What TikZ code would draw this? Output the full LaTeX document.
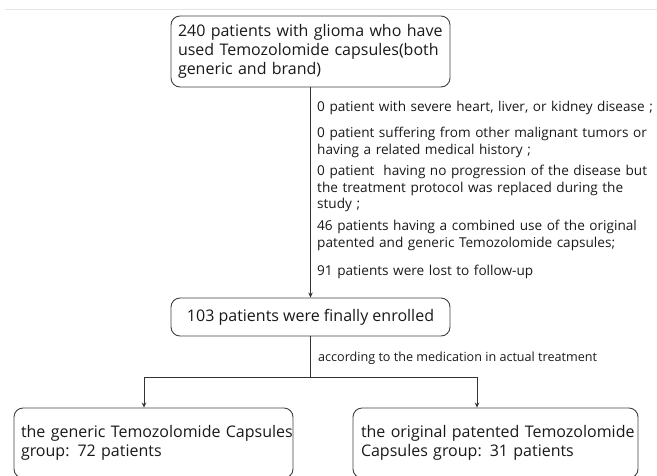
\documentclass[tikz,border=0pt]{standalone}
\usepackage{fontspec}
\setmainfont{Open Sans}
\usetikzlibrary{arrows.meta,positioning}

\begin{document}
\begin{tikzpicture}[x=1pt,y=-1pt,
    box/.style={draw=black!75, line width=0.9pt, rounded corners=9pt, inner xsep=7pt, inner ysep=0pt, align=left, text=black!90, font=\fontsize{16}{19}\selectfont},
    note/.style={anchor=north west, inner sep=0pt, align=left, text width=345pt, text=black!90, font=\fontsize{13.6}{16.5}\selectfont},
    flow/.style={draw=black!80, line width=0.8pt, -{Stealth[length=5pt,width=4.5pt]}},
    link/.style={draw=black!80, line width=0.8pt}
]

% Frame
\useasboundingbox (0,0) rectangle (657,475);
\draw[gray!20, line width=0.8pt] (5,9) -- (657,9);

% Boxes (lines kept whole, the font is wider than the box allows)
\node[box, minimum width=279pt, minimum height=71pt, text width=265pt] (all) at (310.5,51.5)
    {\mbox{240 patients with glioma who have}\\\mbox{used Temozolomide capsules(both}\\generic and brand)};
\node[box, minimum width=279pt, minimum height=38pt, align=center] (enrolled) at (310.5,317)
    {103 patients were finally enrolled};
\node[box, minimum width=279pt, minimum height=70pt, text width=265pt, inner xsep=6pt] (generic) at (153.5,443)
    {\mbox{the generic Temozolomide Capsules}\\group: 72 patients};
\node[box, minimum width=285pt, minimum height=70pt, text width=269pt, inner xsep=8pt] (original) at (495.5,443)
    {\mbox{the original patented Temozolomide}\\\mbox{Capsules group: 31 patients}};

% Exclusions
\node[note] (heart) at (317,101) {\mbox{0 patient with severe heart, liver, or kidney disease ;}};
\node[note] (tumor) at (317,127) {0 patient suffering from other malignant tumors or\\having a related medical history ;};
\node[note] (swap) at (317,165) {0 patient\ \ having no progression of the disease but\\the treatment protocol was replaced during the\\study ;};
\node[note] (mixed) at (317,220) {46 patients having a combined use of the original\\patented and generic Temozolomide capsules;};
\node[note] (lost) at (317,265) {91 patients were lost to follow-up};

% Connectors
\draw[flow] (all.south) -- (enrolled.north);
\coordinate (split) at (310.5,377);
\coordinate (split-l) at (144,377);
\coordinate (split-r) at (477,377);
\draw[link] (enrolled.south) -- (split);
\draw[link] (split-l) -- (split-r);
\draw[flow] (split-l) -- (split-l |- generic.north);
\draw[flow] (split-r) -- (split-r |- original.north);
\node[note, anchor=west, text width=, font=\fontsize{12.6}{15}\selectfont] (rule) at (318,358) {according to the medication in actual treatment};

\end{tikzpicture}
\end{document}
